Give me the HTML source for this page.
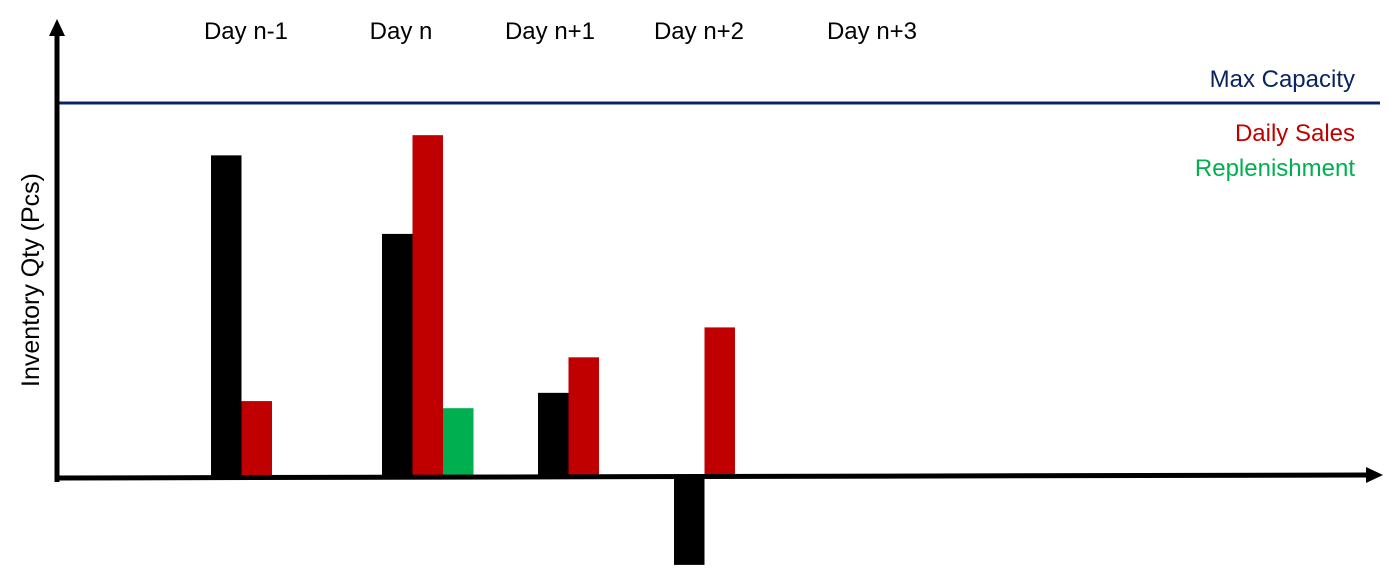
<!DOCTYPE html>
<html><head><meta charset="utf-8"><style>
body{margin:0;background:#fff;width:1399px;height:565px;overflow:hidden}
svg text{font-family:"Liberation Sans",sans-serif}
</style></head><body>
<svg id="chart" width="1399" height="565" viewBox="0 0 1399 565">
<g id="bars"></g>
<line x1="57" y1="103" x2="1380" y2="103" stroke="#0b2461" stroke-width="3"/>
<line x1="57" y1="478" x2="1370" y2="475" stroke="#000" stroke-width="5"/>
<polygon points="1366,467 1383,475 1366,483" fill="#000"/>
<line x1="57" y1="482" x2="57" y2="34" stroke="#000" stroke-width="5"/>
<polygon points="49,36 57,19 65,36" fill="#000"/>
<text transform="translate(39,280) rotate(-90)" text-anchor="middle" font-size="25" fill="#000">Inventory Qty (Pcs)</text>
<text x="1355" y="87" text-anchor="end" font-size="24" fill="#0b2461">Max Capacity</text>
<text x="1355" y="141" text-anchor="end" font-size="24" fill="#c00000">Daily Sales</text>
<text x="1355" y="176" text-anchor="end" font-size="24" fill="#00b050">Replenishment</text>
<g id="labels"></g>
</svg>
<script>
const days=["Day n-1","Day n","Day n+1","Day n+2","Day n+3"];
const inventory=[86,65,22.5,-23.5,null];
const sales=[20.3,91.4,32,40,null];
const replenishment=[0,18.4,0,0,null];
const capacity=100;
const baseY=477, capY=103;
const groupX=[211,382,538,674,840];
const labelX=[246,401,550,699,872];
const bw=30.5;
function y(v){return baseY-(v/capacity)*(baseY-capY);}
const NS="http://www.w3.org/2000/svg";
const g=document.getElementById('bars');
function bar(x,v,color,name){
  if(v===null||v===0)return;
  const r=document.createElementNS(NS,'rect');
  const y0=Math.min(y(v),baseY), h=Math.abs(y(v)-baseY);
  r.setAttribute('x',x);r.setAttribute('y',y0);r.setAttribute('width',bw);r.setAttribute('height',h);r.setAttribute('fill',color);
  
  
  g.appendChild(r);
}
days.forEach((d,i)=>{
  bar(groupX[i],inventory[i],'#000','inventory-bar-'+i);
  bar(groupX[i]+bw,sales[i],'#c00000','sales-bar-'+i);
  bar(groupX[i]+2*bw,replenishment[i],'#00b050','replenishment-bar-'+i);
  const t=document.createElementNS(NS,'text');
  t.setAttribute('x',labelX[i]);t.setAttribute('y',39);t.setAttribute('text-anchor','middle');t.setAttribute('font-size','24');
  t.textContent=d;
  
  
  document.getElementById('labels').appendChild(t);
});
</script>
</body></html>
